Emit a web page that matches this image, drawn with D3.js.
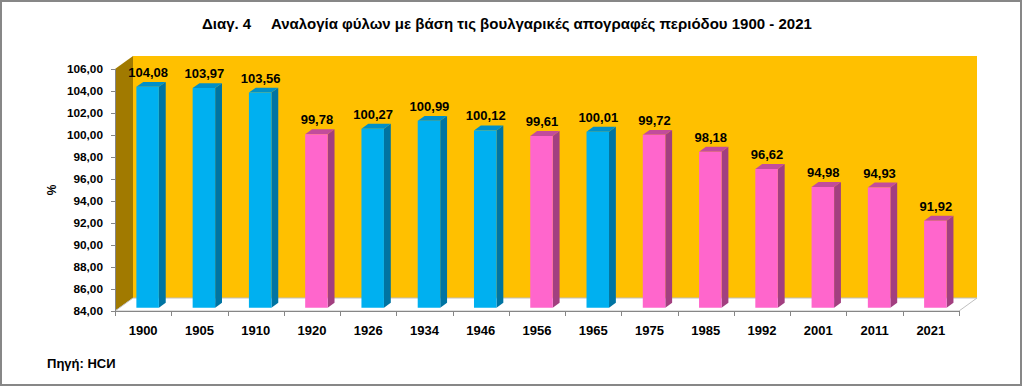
<!DOCTYPE html>
<html>
<head>
<meta charset="utf-8">
<script src="https://cdn.jsdelivr.net/npm/d3@7"></script>
<style>
  body { margin: 0; background: #fff; }
  text { font-family: "Liberation Sans", Arial, sans-serif; font-weight: bold; fill: #000; }
</style>
</head>
<body>
<div id="chart"></div>
<script>
// Data
var years = ["1900", "1905", "1910", "1920", "1926", "1934", "1946", "1956", "1965", "1975", "1985", "1992", "2001", "2011", "2021"];
var ratios = [104.08, 103.97, 103.56, 99.78, 100.27, 100.99, 100.12, 99.61, 100.01, 99.72, 98.18, 96.62, 94.98, 94.93, 91.92];
var yTicks = [84, 86, 88, 90, 92, 94, 96, 98, 100, 102, 104, 106];

var width = 1023, height = 387;

// 3D geometry: depth vector of the whole plot box
var depth = {dx: 18, dy: -13};
var barZ0 = 0.25, barZ1 = 0.63;

var svg = d3.select("#chart").append("svg")
	.attr("width", width)
	.attr("height", height);

// frame
svg.append("rect")
	.attr("x", 1).attr("y", 1)
	.attr("width", width - 3).attr("height", height - 3)
	.attr("fill", "#fff")
	.attr("stroke", "#878787")
	.attr("stroke-width", 2);

var x = d3.scaleBand()
	.domain(years)
	.range([115, 959]);

var y = d3.scaleLinear()
	.domain([84, 106])
	.range([311, 69]);

// project a point of the front plane back by z (0..1)
function proj(px, py, z) {
	return [px + depth.dx * z, py + depth.dy * z];
}
function pts(arr) {
	return arr.map(function(p) { return p.join(","); }).join(" ");
}

var x0 = x.range()[0], x1 = x.range()[1];
var yb = y(84), yt = y(106);

// back wall
svg.append("polygon")
	.attr("points", pts([proj(x0, yt, 1), proj(x1, yt, 1), proj(x1, yb, 1), proj(x0, yb, 1)]))
	.attr("fill", "#FFC000");

// side wall
svg.append("polygon")
	.attr("points", pts([[x0, yt], proj(x0, yt, 1), proj(x0, yb, 1), [x0, yb]]))
	.attr("fill", "#A17A00");

// floor
svg.append("polygon")
	.attr("points", pts([[x0, yb], [x1, yb], proj(x1, yb, 1), proj(x0, yb, 1)]))
	.attr("fill", "#fff")
	.attr("stroke", "#BFBFBF")
	.attr("stroke-width", 1);

// y axis line + ticks
svg.append("line")
	.attr("x1", x0 + 0.5).attr("x2", x0 + 0.5)
	.attr("y1", yt).attr("y2", yb)
	.attr("stroke", "#868686");

var yAxis = svg.append("g");
yAxis.selectAll("line")
	.data(yTicks)
	.enter().append("line")
	.attr("x1", x0 - 4).attr("x2", x0)
	.attr("y1", function(d) { return Math.round(y(d)) + 0.5; })
	.attr("y2", function(d) { return Math.round(y(d)) + 0.5; })
	.attr("stroke", "#868686");
yAxis.selectAll("text")
	.data(yTicks)
	.enter().append("text")
	.attr("x", x0 - 12)
	.attr("y", function(d) { return y(d); })
	.attr("dy", "0.35em")
	.attr("text-anchor", "end")
	.style("font-size", "11.8px")
	.text(function(d) { return d.toFixed(2).replace(".", ","); });

// x axis line + ticks
svg.append("line")
	.attr("x1", x0).attr("x2", x1)
	.attr("y1", yb + 0.5).attr("y2", yb + 0.5)
	.attr("stroke", "#868686");

var bounds = years.map(function(d) { return x(d); }).concat([x1]);
svg.append("g").selectAll("line")
	.data(bounds)
	.enter().append("line")
	.attr("x1", function(d) { return Math.round(d) + 0.5; })
	.attr("x2", function(d) { return Math.round(d) + 0.5; })
	.attr("y1", yb).attr("y2", yb + 5)
	.attr("stroke", "#868686");

svg.append("g").selectAll("text")
	.data(years)
	.enter().append("text")
	.attr("x", function(d) { return x(d) + x.bandwidth() / 2; })
	.attr("y", yb + 19)
	.attr("dy", "0.35em")
	.attr("text-anchor", "middle")
	.style("font-size", "13px")
	.text(function(d) { return d; });

// bars
var barW = x.bandwidth() / 2.5;
var colors = {
	male: {front: "#00B0F0", side: "#0074A2", top: "#0090C8"},
	female: {front: "#FF66CC", side: "#A23F80", top: "#C24C9C"}
};

var bars = svg.append("g").selectAll("g")
	.data(years.map(function(d, i) { return {year: d, value: ratios[i]}; }))
	.enter().append("g");

bars.each(function(d) {
	var g = d3.select(this);
	var c = d.value >= 100 ? colors.male : colors.female;
	var cx = x(d.year) + x.bandwidth() / 2;
	var l = cx - barW / 2, r = cx + barW / 2;
	var top = y(d.value);
	var fl = proj(l, top, barZ0), fr = proj(r, top, barZ0);
	var fbl = proj(l, yb, barZ0), fbr = proj(r, yb, barZ0);
	var br = proj(r, top, barZ1), bl = proj(l, top, barZ1), bbr = proj(r, yb, barZ1);

	g.append("polygon")
		.attr("points", pts([fr, br, bbr, fbr]))
		.attr("fill", c.side);
	g.append("polygon")
		.attr("points", pts([fl, fr, br, bl]))
		.attr("fill", c.top);
	g.append("polygon")
		.attr("points", pts([fl, fr, fbr, fbl]))
		.attr("fill", c.front);

	g.append("text")
		.attr("x", (fl[0] + fr[0]) / 2 + 0.5)
		.attr("y", bl[1] - 5)
		.attr("text-anchor", "middle")
		.style("font-size", "13px")
		.text(d.value.toFixed(2).replace(".", ","));
});

// axis title
svg.append("text")
	.attr("transform", "translate(56," + ((yt + yb) / 2) + ") rotate(-90)")
	.attr("text-anchor", "middle")
	.style("font-size", "12px")
	.text("%");

// chart title
var title = svg.append("text")
	.attr("y", 29)
	.style("font-size", "15px");
title.append("tspan")
	.attr("x", 202)
	.text("Διαγ. 4");
title.append("tspan")
	.attr("x", 271)
	.text("Αναλογία φύλων με βάση τις βουλγαρικές απογραφές περιόδου 1900 - 2021");

// source
svg.append("text")
	.attr("x", 47)
	.attr("y", 368)
	.style("font-size", "13px")
	.text("Πηγή: НСИ");
</script>
</body>
</html>
